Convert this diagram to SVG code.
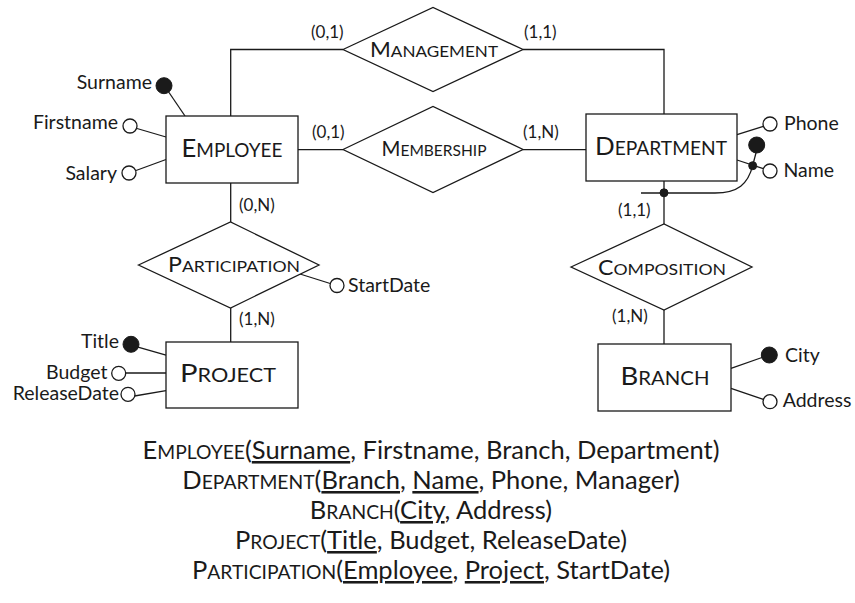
<svg xmlns="http://www.w3.org/2000/svg" width="855" height="603" viewBox="0 0 855 603">
<style>
text{font-family:Lato,"Open Sans","DejaVu Sans",sans-serif;fill:#1a1a1a}
.box,.dia,.att{fill:#fff;stroke:#1a1a1a;stroke-width:1.3}
.key{fill:#1a1a1a;stroke:#1a1a1a;stroke-width:1}
.ln{fill:none;stroke:#1a1a1a;stroke-width:1.3}
.ent{font-size:25px;text-anchor:middle}
.ent .sc{font-size:18.5px}
.rel{font-size:21px;text-anchor:middle}
.rel .sc{font-size:16px}
.card{font-size:17px}
.an{font-size:19.5px}
.end{text-anchor:end}
.tab{font-size:25.5px;text-anchor:middle}
.tab .sc{font-size:19.3px}
.u{text-decoration:underline}
</style>
<rect width="855" height="603" fill="#fff"/>
<g id="connectors">
<polyline class="ln" points="230.7,116 230.7,49.5 343,49.5"/>
<polyline class="ln" points="523,49.5 664,49.5 664,114"/>
<line class="ln" x1="298" y1="149.6" x2="343" y2="149.6"/>
<line class="ln" x1="523" y1="149.6" x2="586" y2="149.6"/>
<line class="ln" x1="230.7" y1="183" x2="230.7" y2="222"/>
<line class="ln" x1="230.7" y1="308" x2="230.7" y2="342"/>
<line class="ln" x1="664" y1="181" x2="664" y2="224"/>
<line class="ln" x1="664" y1="310" x2="664" y2="344"/>
<line class="ln" x1="168" y1="91" x2="185" y2="116"/>
<line class="ln" x1="137" y1="128.5" x2="166" y2="137"/>
<line class="ln" x1="136" y1="170.5" x2="166" y2="159.5"/>
<line class="ln" x1="138" y1="347" x2="166" y2="355"/>
<line class="ln" x1="125.7" y1="373" x2="166" y2="373"/>
<line class="ln" x1="134.5" y1="396" x2="166" y2="390.7"/>
<line class="ln" x1="300" y1="274" x2="330.2" y2="283.5"/>
<line class="ln" x1="737" y1="134.7" x2="763.3" y2="126.3"/>
<line class="ln" x1="737" y1="160" x2="763.3" y2="168.7"/>
<line class="ln" x1="731" y1="368.3" x2="762" y2="357.5"/>
<line class="ln" x1="731" y1="388.3" x2="763.3" y2="399.4"/>
<line class="ln" x1="756.7" y1="150" x2="752.7" y2="165.7"/>
<path class="ln" d="M752.7,165.7 C748,184 738,193 715,193 L641,193"/>
<circle class="key" cx="752.7" cy="165.7" r="4"/>
<circle class="key" cx="664" cy="192.8" r="4"/>
</g>
<g id="employee">
<rect class="box" x="166" y="116" width="132" height="67"/>
<text class="ent" x="232" y="157" textLength="101" lengthAdjust="spacingAndGlyphs">E<tspan class="sc">MPLOYEE</tspan></text>
</g>
<g id="department">
<rect class="box" x="586" y="114" width="151" height="67"/>
<text class="ent" x="661" y="155" textLength="132" lengthAdjust="spacingAndGlyphs">D<tspan class="sc">EPARTMENT</tspan></text>
</g>
<g id="project">
<rect class="box" x="166" y="342" width="132" height="66"/>
<text class="ent" x="228" y="382" textLength="96" lengthAdjust="spacingAndGlyphs">P<tspan class="sc">ROJECT</tspan></text>
</g>
<g id="branch">
<rect class="box" x="598" y="344" width="133" height="67"/>
<text class="ent" x="665" y="385" textLength="89" lengthAdjust="spacingAndGlyphs">B<tspan class="sc">RANCH</tspan></text>
</g>
<g id="management">
<polygon class="dia" points="343,49.5 433,7.5 523,49.5 433,91.5"/>
<text class="rel" x="434" y="56.7" textLength="128" lengthAdjust="spacingAndGlyphs">M<tspan class="sc">ANAGEMENT</tspan></text>
</g>
<g id="membership">
<polygon class="dia" points="343,149.5 433,106.5 523,149.5 433,192.5"/>
<text class="rel" x="434" y="156" textLength="105" lengthAdjust="spacingAndGlyphs">M<tspan class="sc">EMBERSHIP</tspan></text>
</g>
<g id="participation">
<polygon class="dia" points="138.5,265 230.5,222 319,265 230.5,308"/>
<text class="rel" x="234" y="271.7" textLength="132" lengthAdjust="spacingAndGlyphs">P<tspan class="sc">ARTICIPATION</tspan></text>
</g>
<g id="composition">
<polygon class="dia" points="571,267 664,224 752,267 664,310"/>
<text class="rel" x="662" y="275" textLength="128" lengthAdjust="spacingAndGlyphs">C<tspan class="sc">OMPOSITION</tspan></text>
</g>
<g id="cardinalities">
<text class="card" x="311" y="38">(0,1)</text>
<text class="card" x="524" y="38">(1,1)</text>
<text class="card" x="312" y="138">(0,1)</text>
<text class="card" x="523" y="138">(1,N)</text>
<text class="card" x="239" y="211">(0,N)</text>
<text class="card" x="239" y="325">(1,N)</text>
<text class="card" x="618" y="216">(1,1)</text>
<text class="card" x="612" y="322">(1,N)</text>
</g>
<g id="attr-surname"><circle class="key" cx="164" cy="85.7" r="8"/><text class="an end" x="152" y="89.3">Surname</text></g>
<g id="attr-firstname"><circle class="att" cx="130" cy="126" r="7"/><text class="an end" x="118" y="128.5">Firstname</text></g>
<g id="attr-salary"><circle class="att" cx="129" cy="173" r="7"/><text class="an end" x="117" y="179.5">Salary</text></g>
<g id="attr-title"><circle class="key" cx="131" cy="344.3" r="8"/><text class="an end" x="119" y="348">Title</text></g>
<g id="attr-budget"><circle class="att" cx="118.7" cy="373.3" r="7"/><text class="an end" x="107.5" y="378.5">Budget</text></g>
<g id="attr-releasedate"><circle class="att" cx="128" cy="394.3" r="7"/><text class="an end" x="119" y="399.8">ReleaseDate</text></g>
<g id="attr-startdate"><circle class="att" cx="337" cy="285.5" r="7"/><text class="an" x="348" y="292">StartDate</text></g>
<g id="attr-phone"><circle class="att" cx="770" cy="124" r="7"/><text class="an" x="784" y="129.8">Phone</text></g>
<g id="attr-name"><circle class="att" cx="770" cy="171" r="7"/><text class="an" x="783.5" y="177">Name</text></g>
<g id="attr-name-key"><circle class="key" cx="756.7" cy="145" r="8"/></g>
<g id="attr-city"><circle class="key" cx="769.3" cy="355" r="8"/><text class="an" x="785" y="362">City</text></g>
<g id="attr-address"><circle class="att" cx="770" cy="401.7" r="7"/><text class="an" x="782.7" y="407">Address</text></g>
<g id="schema">
<text class="tab" x="431" y="459">E<tspan class="sc">MPLOYEE</tspan>(<tspan class="u">Surname</tspan>, Firstname, Branch, Department)</text>
<text class="tab" x="431" y="489">D<tspan class="sc">EPARTMENT</tspan>(<tspan class="u">Branch</tspan>, <tspan class="u">Name</tspan>, Phone, Manager)</text>
<text class="tab" x="431" y="519">B<tspan class="sc">RANCH</tspan>(<tspan class="u">City</tspan>, Address)</text>
<text class="tab" x="431" y="549">P<tspan class="sc">ROJECT</tspan>(<tspan class="u">Title</tspan>, Budget, ReleaseDate)</text>
<text class="tab" x="431" y="579">P<tspan class="sc">ARTICIPATION</tspan>(<tspan class="u">Employee</tspan>, <tspan class="u">Project</tspan>, StartDate)</text>
</g>
</svg>
